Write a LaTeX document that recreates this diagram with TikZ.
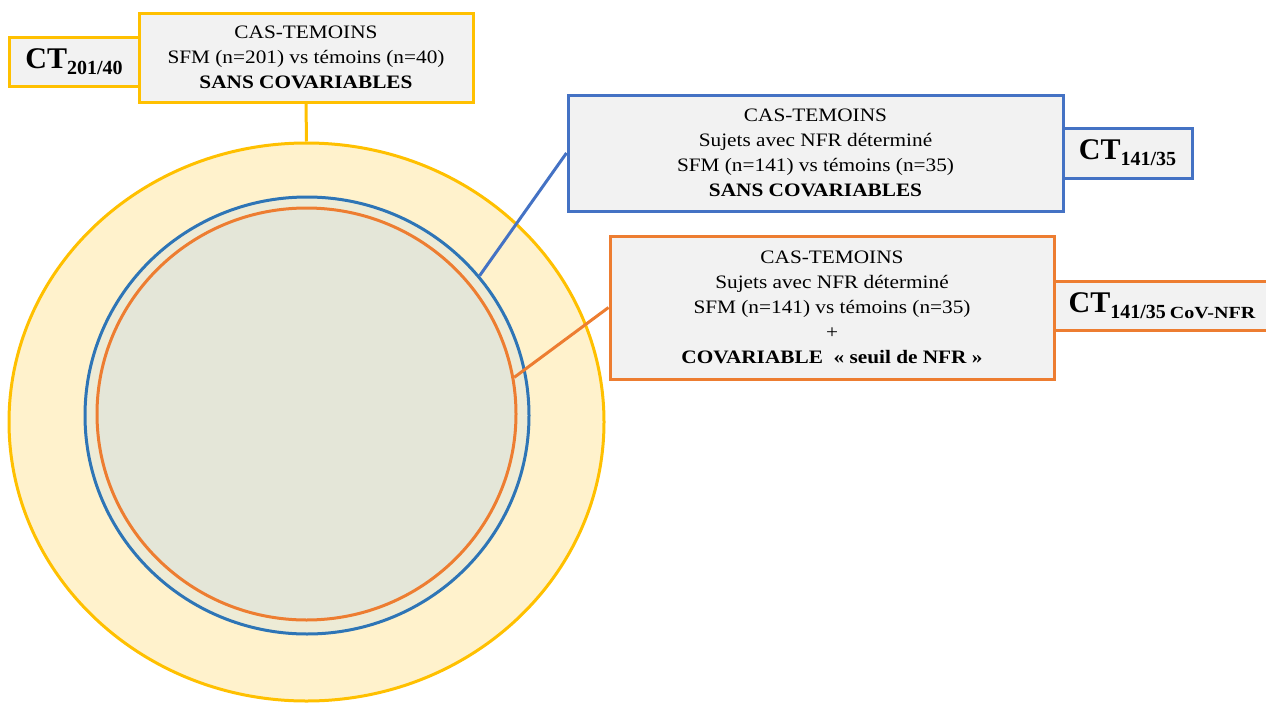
\documentclass[tikz,border=0pt]{standalone}
\usepackage{fontspec}
\setmainfont{Liberation Serif}
\newfontfamily\boxfont[FakeStretch=1.12]{Liberation Serif}
\usetikzlibrary{shapes.geometric}
\definecolor{ygold}{HTML}{FFC000}
\definecolor{yfill}{HTML}{FFF2CC}
\definecolor{bline}{HTML}{2E75B6}
\definecolor{bbox}{HTML}{4472C4}
\definecolor{bfill}{HTML}{EDEBD6}
\definecolor{oline}{HTML}{ED7D31}
\definecolor{ofill}{HTML}{E4E6D8}
\definecolor{boxfill}{HTML}{F2F2F2}
\tikzset{
  ring/.style={ellipse, line width=3pt, inner sep=0pt},
  infobox/.style={rectangle, fill=boxfill, line width=3pt, align=center, inner sep=0pt,
    font=\boxfont\fontsize{19}{25}\selectfont},
  ctbox/.style={rectangle, fill=boxfill, line width=3pt, inner sep=0pt},
  link/.style={line width=3pt},
}
\newcommand{\ctlabel}[1]{{\fontsize{30}{30}\selectfont\bfseries CT}{\fontsize{20}{20}\selectfont\bfseries\raisebox{-6pt}{#1}}}
\begin{document}
\begin{tikzpicture}[x=1pt,y=-1pt]
\useasboundingbox (0,0) rectangle (1266,704);
% rings
\node[ring, draw=ygold, fill=yfill, minimum width=595, minimum height=558] (yell) at (306.5,422) {};
\node[ring, draw=bline, fill=bfill, minimum width=444, minimum height=437] (bell) at (307,415.5) {};
\node[ring, draw=oline, fill=ofill, minimum width=419, minimum height=412] (oell) at (306.5,414) {};
% CT label boxes
\node[ctbox, draw=ygold, minimum width=130, minimum height=49] (yct) at (74,61.5) {\ctlabel{201/40}};
\node[ctbox, draw=bbox, minimum width=129, minimum height=50] (bct) at (1127.5,153) {\ctlabel{141/35}};
\node[ctbox, draw=oline, minimum width=216, minimum height=49] (oct) at (1162,305.5) {\ctlabel{141/35\hspace{4pt}{\fontsize{17}{17}\selectfont\scalebox{1.18}[1]{CoV-NFR}}}};
% info boxes
\node[infobox, draw=ygold, minimum width=334, minimum height=89] (ybox) at (306,57.5)
  {CAS-TEMOINS\\SFM (n=201) vs témoins (n=40)\\\textbf{SANS COVARIABLES}};
\node[infobox, draw=bbox, minimum width=495, minimum height=116] (bbx) at (815.5,153)
  {CAS-TEMOINS\\Sujets avec NFR déterminé\\SFM (n=141) vs témoins (n=35)\\\textbf{SANS COVARIABLES}};
\node[infobox, draw=oline, minimum width=444, minimum height=143] (obx) at (832,307.5)
  {CAS-TEMOINS\\Sujets avec NFR déterminé\\SFM (n=141) vs témoins (n=35)\\+\\\textbf{COVARIABLE \ « seuil de NFR »}};
% connectors
\draw[link, draw=ygold] (ybox.south) -- (yell.north);
\draw[link, draw=bbox] (bell.39) -- (bbx.west);
\draw[link, draw=oline] (oell.10) -- (obx.west);
\end{tikzpicture}
\end{document}
